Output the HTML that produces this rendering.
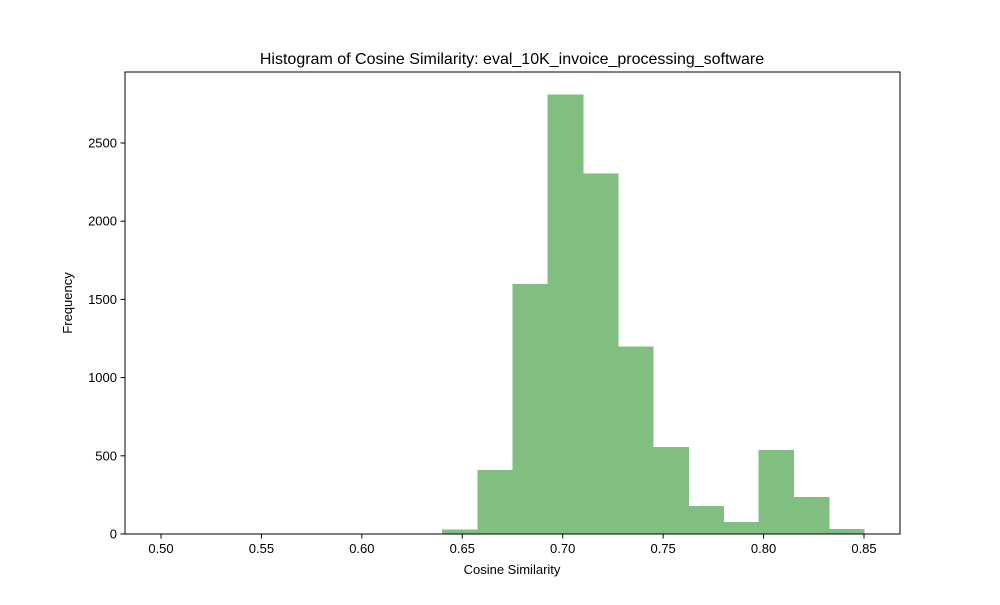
<!DOCTYPE html>
<html><head><meta charset="utf-8"><style>
body{margin:0;background:#fff;}
svg text{font-family:"Liberation Sans","DejaVu Sans",sans-serif;}
</style></head><body>
<svg id="chart" width="1000" height="600" viewBox="0 0 1000 600">
<rect width="1000" height="600" fill="#fff"/>
<text x="512" y="64" font-size="16" text-anchor="middle">Histogram of Cosine Similarity: eval_10K_invoice_processing_software</text>
<g id="bars" shape-rendering="crispEdges"></g>
<rect x="125" y="72" width="775" height="462" fill="none" stroke="#000" stroke-width="1"/>
<g id="xticks"></g><g id="yticks"></g>
<text x="512" y="574" font-size="13" text-anchor="middle">Cosine Similarity</text>
<text x="0" y="0" font-size="13" text-anchor="middle" transform="translate(72,303) rotate(-90)">Frequency</text>
</svg>
<script>
const binStart = 0.5;
const binWidth = 0.0175;
const counts = [0,0,0,0,0,0,0,0,30,410,1600,2810,2305,1200,556,179,77,537,237,32];
const xTickValues = [0.50,0.55,0.60,0.65,0.70,0.75,0.80,0.85];
const yTickValues = [0,500,1000,1500,2000,2500];
const NS = "http://www.w3.org/2000/svg";
function xs(v){return 161 + (v-0.5)*(864-161)/0.35;}
function ys(v){return 534 - v*(534-143)/2500;}
const bars = document.getElementById('bars');
counts.forEach((c,i)=>{
  if(c<=0) return;
  const x0 = xs(binStart+i*binWidth), x1 = xs(binStart+(i+1)*binWidth);
  const r = document.createElementNS(NS,'rect');
  r.setAttribute('x',x0); r.setAttribute('width',x1-x0+0.5);
  r.setAttribute('y',ys(c)); r.setAttribute('height',534-ys(c));
  r.setAttribute('fill','#80bf80');
  
  
  bars.appendChild(r);
});
const xt = document.getElementById('xticks');
xTickValues.forEach(v=>{
  const x = xs(v);
  const l = document.createElementNS(NS,'line');
  l.setAttribute('x1',x);l.setAttribute('x2',x);l.setAttribute('y1',534);l.setAttribute('y2',538.5);l.setAttribute('stroke','#000');
  
  
  xt.appendChild(l);
  const t = document.createElementNS(NS,'text');
  t.setAttribute('x',x);t.setAttribute('y',553);t.setAttribute('font-size','13');t.setAttribute('text-anchor','middle');
  t.textContent = v.toFixed(2);
  
  
  xt.appendChild(t);
});
const yt = document.getElementById('yticks');
yTickValues.forEach(v=>{
  const y = ys(v);
  const l = document.createElementNS(NS,'line');
  l.setAttribute('x1',120.5);l.setAttribute('x2',125);l.setAttribute('y1',y);l.setAttribute('y2',y);l.setAttribute('stroke','#000');
  
  
  yt.appendChild(l);
  const t = document.createElementNS(NS,'text');
  t.setAttribute('x',117);t.setAttribute('y',y+4.5);t.setAttribute('font-size','13');t.setAttribute('text-anchor','end');
  t.textContent = v;
  
  
  yt.appendChild(t);
});
</script>
</body></html>
